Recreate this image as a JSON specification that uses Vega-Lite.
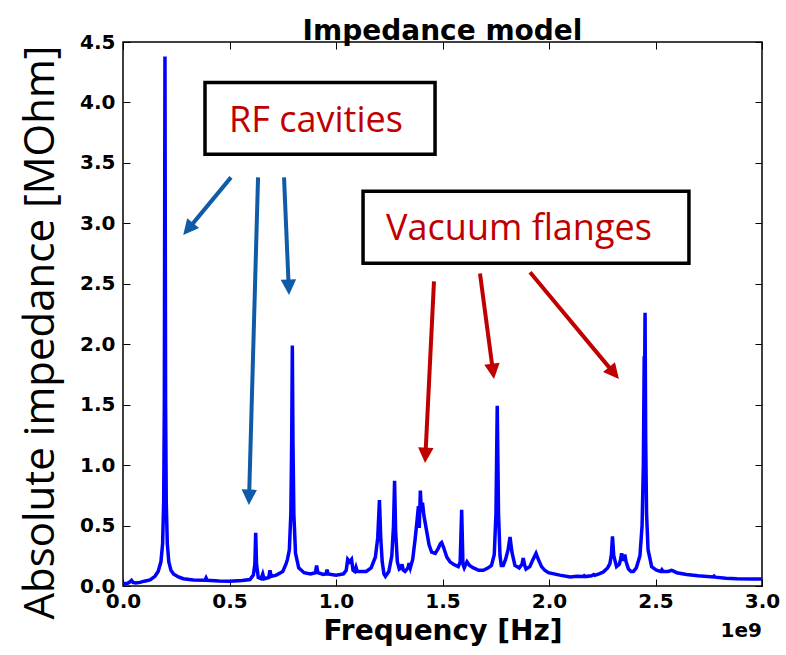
{
  "$schema": "https://vega.github.io/schema/vega-lite/v6.json",
  "width": 639,
  "height": 544,
  "autosize": "none",
  "padding": {"left": 123, "top": 42, "right": 24, "bottom": 69},
  "background": "white",
  "config": {
    "view": {"stroke": "#000", "strokeWidth": 1.5},
    "axis": {"domain": false, "grid": false, "tickColor": "#000", "tickSize": -7, "tickWidth": 1, "labelFlush": false, "labelOverlap": false,
      "labelFont": "DejaVu Sans", "labelFontSize": 20, "labelFontWeight": "bold", "labelColor": "#000", "titleColor": "#000"}
  },
  "title": {"text": "Impedance model", "font": "DejaVu Sans", "fontSize": 28, "fontWeight": "bold", "color": "#000", "offset": 4, "dy": 18},
  "datasets": {
    "impedance": [
      {"freq":0,"imp":0.02},{"freq":0.02,"imp":0.02},{"freq":0.033,"imp":0.035},{"freq":0.04,"imp":0.047},{"freq":0.047,"imp":0.03},
      {"freq":0.06,"imp":0.025},{"freq":0.08,"imp":0.03},{"freq":0.1,"imp":0.04},{"freq":0.127,"imp":0.05},{"freq":0.15,"imp":0.08},
      {"freq":0.165,"imp":0.12},{"freq":0.178,"imp":0.2},{"freq":0.186,"imp":0.35},{"freq":0.191,"imp":0.7},{"freq":0.194,"imp":1.5},
      {"freq":0.197,"imp":4.38},{"freq":0.2,"imp":1.5},{"freq":0.203,"imp":0.7},{"freq":0.208,"imp":0.35},{"freq":0.215,"imp":0.2},
      {"freq":0.225,"imp":0.13},{"freq":0.237,"imp":0.1},{"freq":0.26,"imp":0.075},{"freq":0.283,"imp":0.06},{"freq":0.33,"imp":0.05},
      {"freq":0.385,"imp":0.047},{"freq":0.39,"imp":0.066},{"freq":0.395,"imp":0.047},{"freq":0.45,"imp":0.042},{"freq":0.5,"imp":0.04},
      {"freq":0.56,"imp":0.045},{"freq":0.596,"imp":0.053},{"freq":0.612,"imp":0.09},{"freq":0.619,"imp":0.18},{"freq":0.623,"imp":0.44},
      {"freq":0.627,"imp":0.18},{"freq":0.635,"imp":0.07},{"freq":0.648,"imp":0.06},{"freq":0.656,"imp":0.1},{"freq":0.662,"imp":0.06},
      {"freq":0.684,"imp":0.07},{"freq":0.69,"imp":0.13},{"freq":0.696,"imp":0.08},{"freq":0.72,"imp":0.09},{"freq":0.75,"imp":0.12},
      {"freq":0.765,"imp":0.18},{"freq":0.772,"imp":0.22},{"freq":0.781,"imp":0.3},{"freq":0.788,"imp":0.6},{"freq":0.792,"imp":1.2},
      {"freq":0.795,"imp":1.99},{"freq":0.798,"imp":1.2},{"freq":0.802,"imp":0.6},{"freq":0.81,"imp":0.27},{"freq":0.825,"imp":0.15},
      {"freq":0.85,"imp":0.11},{"freq":0.88,"imp":0.1},{"freq":0.903,"imp":0.11},{"freq":0.909,"imp":0.17},{"freq":0.915,"imp":0.11},
      {"freq":0.94,"imp":0.095},{"freq":0.953,"imp":0.1},{"freq":0.958,"imp":0.135},{"freq":0.963,"imp":0.1},{"freq":1.0,"imp":0.09},
      {"freq":1.035,"imp":0.1},{"freq":1.048,"imp":0.13},{"freq":1.055,"imp":0.22},{"freq":1.064,"imp":0.2},{"freq":1.073,"imp":0.22},
      {"freq":1.08,"imp":0.13},{"freq":1.088,"imp":0.12},{"freq":1.094,"imp":0.155},{"freq":1.1,"imp":0.12},{"freq":1.12,"imp":0.12},
      {"freq":1.142,"imp":0.12},{"freq":1.165,"imp":0.15},{"freq":1.185,"imp":0.24},{"freq":1.196,"imp":0.4},{"freq":1.204,"imp":0.71},
      {"freq":1.21,"imp":0.4},{"freq":1.217,"imp":0.2},{"freq":1.225,"imp":0.1},{"freq":1.232,"imp":0.08},{"freq":1.248,"imp":0.12},
      {"freq":1.262,"imp":0.25},{"freq":1.27,"imp":0.5},{"freq":1.275,"imp":0.87},{"freq":1.28,"imp":0.45},{"freq":1.288,"imp":0.2},
      {"freq":1.297,"imp":0.14},{"freq":1.305,"imp":0.15},{"freq":1.31,"imp":0.18},{"freq":1.316,"imp":0.13},{"freq":1.324,"imp":0.12},
      {"freq":1.338,"imp":0.15},{"freq":1.343,"imp":0.19},{"freq":1.349,"imp":0.15},{"freq":1.36,"imp":0.22},{"freq":1.371,"imp":0.38},
      {"freq":1.381,"imp":0.55},{"freq":1.387,"imp":0.66},{"freq":1.391,"imp":0.48},{"freq":1.396,"imp":0.79},{"freq":1.401,"imp":0.61},
      {"freq":1.406,"imp":0.69},{"freq":1.413,"imp":0.58},{"freq":1.425,"imp":0.46},{"freq":1.437,"imp":0.34},{"freq":1.449,"imp":0.28},
      {"freq":1.466,"imp":0.27},{"freq":1.48,"imp":0.31},{"freq":1.49,"imp":0.35},{"freq":1.496,"imp":0.36},{"freq":1.505,"imp":0.32},
      {"freq":1.52,"imp":0.24},{"freq":1.535,"imp":0.2},{"freq":1.551,"imp":0.18},{"freq":1.574,"imp":0.16},{"freq":1.583,"imp":0.2},
      {"freq":1.59,"imp":0.63},{"freq":1.596,"imp":0.18},{"freq":1.602,"imp":0.15},{"freq":1.607,"imp":0.17},{"freq":1.615,"imp":0.2},
      {"freq":1.627,"imp":0.17},{"freq":1.645,"imp":0.15},{"freq":1.67,"imp":0.13},{"freq":1.692,"imp":0.13},{"freq":1.715,"imp":0.15},
      {"freq":1.73,"imp":0.17},{"freq":1.743,"imp":0.26},{"freq":1.751,"imp":0.6},{"freq":1.757,"imp":1.49},{"freq":1.763,"imp":0.6},
      {"freq":1.77,"imp":0.25},{"freq":1.776,"imp":0.17},{"freq":1.785,"imp":0.17},{"freq":1.796,"imp":0.22},{"freq":1.808,"imp":0.3},
      {"freq":1.817,"imp":0.405},{"freq":1.826,"imp":0.28},{"freq":1.84,"imp":0.17},{"freq":1.86,"imp":0.15},{"freq":1.873,"imp":0.18},
      {"freq":1.879,"imp":0.23},{"freq":1.886,"imp":0.17},{"freq":1.892,"imp":0.14},{"freq":1.91,"imp":0.16},{"freq":1.925,"imp":0.22},
      {"freq":1.939,"imp":0.27},{"freq":1.95,"imp":0.22},{"freq":1.965,"imp":0.16},{"freq":1.98,"imp":0.13},{"freq":1.997,"imp":0.11},
      {"freq":2.05,"imp":0.09},{"freq":2.1,"imp":0.075},{"freq":2.13,"imp":0.08},{"freq":2.16,"imp":0.078},{"freq":2.165,"imp":0.085},
      {"freq":2.17,"imp":0.078},{"freq":2.2,"imp":0.085},{"freq":2.21,"imp":0.095},{"freq":2.215,"imp":0.088},{"freq":2.235,"imp":0.1},
      {"freq":2.255,"imp":0.115},{"freq":2.275,"imp":0.15},{"freq":2.286,"imp":0.185},{"freq":2.293,"imp":0.26},{"freq":2.298,"imp":0.41},
      {"freq":2.304,"imp":0.25},{"freq":2.317,"imp":0.16},{"freq":2.33,"imp":0.18},{"freq":2.336,"imp":0.22},{"freq":2.341,"imp":0.27},
      {"freq":2.346,"imp":0.22},{"freq":2.351,"imp":0.22},{"freq":2.356,"imp":0.26},{"freq":2.362,"imp":0.2},{"freq":2.373,"imp":0.14},
      {"freq":2.385,"imp":0.12},{"freq":2.396,"imp":0.12},{"freq":2.41,"imp":0.15},{"freq":2.427,"imp":0.25},{"freq":2.437,"imp":0.5},
      {"freq":2.443,"imp":1.0},{"freq":2.447,"imp":1.9},{"freq":2.449,"imp":1.75},{"freq":2.451,"imp":2.26},{"freq":2.454,"imp":1.2},
      {"freq":2.458,"imp":0.6},{"freq":2.465,"imp":0.3},{"freq":2.482,"imp":0.16},{"freq":2.505,"imp":0.13},{"freq":2.524,"imp":0.12},
      {"freq":2.53,"imp":0.135},{"freq":2.536,"imp":0.12},{"freq":2.56,"imp":0.12},{"freq":2.575,"imp":0.13},{"freq":2.582,"imp":0.125},
      {"freq":2.6,"imp":0.11},{"freq":2.646,"imp":0.095},{"freq":2.7,"imp":0.085},{"freq":2.77,"imp":0.075},{"freq":2.775,"imp":0.082},
      {"freq":2.78,"imp":0.073},{"freq":2.83,"imp":0.065},{"freq":2.882,"imp":0.06},{"freq":2.95,"imp":0.058},{"freq":3.0,"imp":0.058}
    ],
    "arrows": [
      {"group":"RF","x":0.507,"y":3.38,"hx":0.306,"hy":2.952},
      {"group":"RF","x":0.634,"y":3.38,"hx":0.592,"hy":0.734},
      {"group":"RF","x":0.756,"y":3.38,"hx":0.778,"hy":2.471},
      {"group":"VF","x":1.46,"y":2.52,"hx":1.42,"hy":1.081},
      {"group":"VF","x":1.676,"y":2.585,"hx":1.737,"hy":1.775},
      {"group":"VF","x":1.911,"y":2.595,"hx":2.305,"hy":1.761}
    ],
    "boxes": [
      {"x":0.385,"x2":1.465,"y":4.166,"y2":3.571},
      {"x":1.127,"x2":2.657,"y":3.265,"y2":2.669}
    ],
    "labels": [
      {"x":0.906,"y":3.753,"text":"RF cavities"},
      {"x":1.859,"y":2.859,"text":"Vacuum flanges"}
    ],
    "offsetText": [{"x":3.0,"y":-0.42,"text":"1e9"}]
  },
  "resolve": {"axis": {"x": "independent", "y": "independent"}},
  "layer": [
    {
      "data": {"name": "impedance"},
      "mark": {"type": "line", "color": "#0000ff", "strokeWidth": 3.5, "clip": true},
      "encoding": {
        "x": {"field": "freq", "type": "quantitative", "scale": {"domain": [0, 3], "nice": false, "zero": false},
          "axis": {"orient": "bottom", "values": [0, 0.5, 1, 1.5, 2, 2.5, 3], "format": ".1f", "labelPadding": 12,
            "title": "Frequency [Hz]", "titleFont": "DejaVu Sans", "titleFontSize": 28, "titleFontWeight": "bold", "titlePadding": 6}},
        "y": {"field": "imp", "type": "quantitative", "scale": {"domain": [0, 4.5], "nice": false, "zero": false},
          "axis": {"orient": "left", "values": [0, 0.5, 1, 1.5, 2, 2.5, 3, 3.5, 4, 4.5], "format": ".1f", "labelPadding": 15,
            "title": "Absolute impedance [MOhm]", "titleFont": "Open Sans", "titleFontSize": 42, "titleFontWeight": "normal",
            "titlePadding": 17, "titleLimit": 1000, "titleY": 290}}
      }
    },
    {
      "data": {"name": "boxes"},
      "mark": {"type": "rect", "fill": "white", "stroke": "#000", "strokeWidth": 3.5},
      "encoding": {
        "x": {"field": "x", "type": "quantitative", "scale": {"domain": [0, 3], "nice": false, "zero": false},
          "axis": {"orient": "top", "values": [0, 0.5, 1, 1.5, 2, 2.5, 3], "labels": false, "title": null}},
        "x2": {"field": "x2"},
        "y": {"field": "y", "type": "quantitative", "scale": {"domain": [0, 4.5], "nice": false, "zero": false},
          "axis": {"orient": "right", "values": [0, 0.5, 1, 1.5, 2, 2.5, 3, 3.5, 4, 4.5], "labels": false, "title": null}},
        "y2": {"field": "y2"}
      }
    },
    {
      "data": {"name": "arrows"},
      "mark": {"type": "rule", "strokeWidth": 4},
      "encoding": {
        "x": {"field": "x", "type": "quantitative", "axis": null},
        "y": {"field": "y", "type": "quantitative", "axis": null},
        "x2": {"field": "hx"},
        "y2": {"field": "hy"},
        "color": {"field": "group", "type": "nominal", "scale": {"domain": ["RF", "VF"], "range": ["#0F5BA8", "#C00000"]}, "legend": null}
      }
    },
    {
      "data": {"name": "arrows"},
      "transform": [{"calculate": "atan2(-(datum.hx - datum.x) * 213, (datum.y - datum.hy) * 120.9) * 180 / PI", "as": "angle"}],
      "mark": {"type": "point", "shape": "M-1,-1L1,-1L0,1Z", "filled": true, "opacity": 1, "size": 240, "strokeWidth": 0},
      "encoding": {
        "x": {"field": "hx", "type": "quantitative", "axis": null},
        "y": {"field": "hy", "type": "quantitative", "axis": null},
        "angle": {"field": "angle", "type": "quantitative", "scale": null},
        "color": {"field": "group", "type": "nominal", "scale": {"domain": ["RF", "VF"], "range": ["#0F5BA8", "#C00000"]}, "legend": null}
      }
    },
    {
      "data": {"name": "labels"},
      "mark": {"type": "text", "font": "Open Sans", "fontSize": 36, "color": "#C00000", "align": "center", "baseline": "alphabetic"},
      "encoding": {
        "x": {"field": "x", "type": "quantitative", "axis": null},
        "y": {"field": "y", "type": "quantitative", "axis": null},
        "text": {"field": "text"}
      }
    },
    {
      "data": {"name": "offsetText"},
      "mark": {"type": "text", "font": "DejaVu Sans", "fontSize": 20, "fontWeight": "bold", "color": "#000", "align": "right", "baseline": "alphabetic"},
      "encoding": {
        "x": {"field": "x", "type": "quantitative", "axis": null},
        "y": {"field": "y", "type": "quantitative", "axis": null},
        "text": {"field": "text"}
      }
    }
  ]
}
